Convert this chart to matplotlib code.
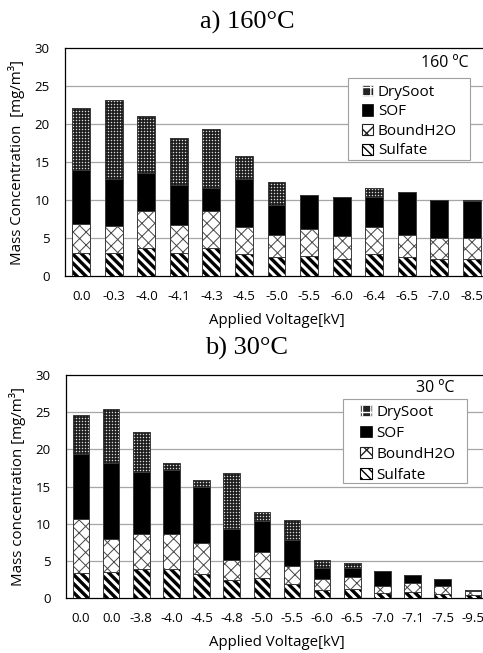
import matplotlib
matplotlib.use("Agg")
import matplotlib.pyplot as plt
import numpy as np
from matplotlib.patches import Patch, Rectangle
from matplotlib.lines import Line2D
from matplotlib.transforms import IdentityTransform

plt.rcParams['font.family'] = ['Open Sans', 'DejaVu Sans']

# ---- data (mg/m3, stacked increments) ----
volt_160 = ["0.0", "-0.3", "-4.0", "-4.1", "-4.3", "-4.5", "-5.0", "-5.5", "-6.0", "-6.4", "-6.5", "-7.0", "-8.5"]
sulfate_160 = [3.0, 3.0, 3.65, 3.0, 3.65, 2.85, 2.45, 2.7, 2.3, 2.85, 2.45, 2.2, 2.2]
boundh2o_160 = [3.85, 3.6, 4.85, 3.7, 4.85, 3.65, 2.9, 3.45, 2.9, 3.55, 2.95, 2.76, 2.76]
sof_160 = [7.05, 6.2, 5.1, 5.3, 3.1, 6.3, 4.0, 4.52, 5.25, 3.96, 5.6, 5.04, 4.94]
drysoot_160 = [8.15, 10.4, 7.5, 6.1, 7.7, 3.0, 3.05, 0.0, 0.0, 1.24, 0.0, 0.0, 0.1]

volt_30 = ["0.0", "0.0", "-3.8", "-4.0", "-4.5", "-4.8", "-5.0", "-5.5", "-6.0", "-6.5", "-7.0", "-7.1", "-7.5", "-9.5"]
sulfate_30 = [3.36, 3.5, 3.85, 3.85, 3.27, 2.37, 2.73, 1.93, 1.12, 1.2, 0.67, 0.85, 0.58, 0.36]
boundh2o_30 = [7.3, 4.43, 4.75, 4.75, 4.07, 2.73, 3.45, 2.41, 1.38, 1.58, 0.9, 1.15, 0.99, 0.64]
sof_30 = [8.74, 10.27, 8.3, 8.6, 7.56, 4.17, 4.12, 3.46, 1.6, 1.22, 2.01, 1.05, 1.03, 0.07]
drysoot_30 = [5.27, 7.2, 5.4, 0.9, 0.95, 7.57, 1.3, 2.72, 1.05, 0.66, 0.0, 0.0, 0.0, 0.0]

components = ["Sulfate", "BoundH2O", "SOF", "DrySoot"]
face = {"Sulfate": "white", "BoundH2O": "white", "SOF": "black", "DrySoot": "#151515"}

DPI = 100
PT = 72.0 / DPI  # px -> points


def pixel_box(ax, p):
    (x0, y0) = ax.transData.transform((p.get_x(), p.get_y()))
    (x1, y1) = ax.transData.transform((p.get_x() + p.get_width(), p.get_y() + p.get_height()))
    return x0, y0, x1, y1


def diag_lines(ax, p, period, dirs, color, width_px, zorder):
    # 45 degree stripes in pixel space, clipped to the bar segment
    x0, y0, x1, y1 = pixel_box(ax, p)
    h = y1 - y0
    xs, ys = [], []
    for k in range(int(np.floor((x0 - h) / period)) - 1, int(np.ceil(x1 / period)) + 2):
        c = k * period
        if '\\' in dirs:
            xs += [c - 2, c + h + 2, np.nan]
            ys += [y1 + 2, y0 - 2, np.nan]
        if '/' in dirs:
            xs += [c - 2, c + h + 2, np.nan]
            ys += [y0 - 2, y1 + 2, np.nan]
    ln = Line2D(xs, ys, color=color, linewidth=width_px * PT, solid_capstyle='butt',
                transform=IdentityTransform(), zorder=zorder)
    ax.add_artist(ln)
    ln.set_clip_path(p)  # after add_artist, which would reset it to the axes box


def dot_grid(ax, p, period, color, size_px, zorder):
    x0, y0, x1, y1 = pixel_box(ax, p)
    xs = np.arange(np.floor(x0), np.ceil(x1) + 1, period) + 0.5
    ys = np.arange(np.floor(y0), np.ceil(y1) + 1, period) + 0.5
    gx, gy = np.meshgrid(xs, ys)
    ln = Line2D(gx.ravel(), gy.ravel(), linestyle='none', marker='s',
                markersize=size_px * PT, markerfacecolor=color, markeredgewidth=0,
                transform=IdentityTransform(), zorder=zorder)
    ax.add_artist(ln)
    ln.set_clip_path(p)


def stacked(ax, labels, comps, frame_box, legend_pos, lab_space, temp_text, temp_pos, ylabel):
    x = np.arange(len(labels))
    ax.set_xlim(-0.5, len(labels) - 0.5)
    ax.set_ylim(0, 30)
    bottom = np.zeros(len(labels))
    for name, vals in zip(components, comps):
        vals = np.array(vals)
        bars = ax.bar(x, vals, 0.55, bottom=bottom, color=face[name], linewidth=0, zorder=3)
        for b, v in zip(bars, vals):
            if v <= 0:
                continue
            if name == "Sulfate":
                diag_lines(ax, b, 9.0, '\\', 'black', 3.4, 3.5)
            elif name == "BoundH2O":
                diag_lines(ax, b, 13.0, '\\/', '#4a4a4a', 1.0, 3.5)
            elif name == "DrySoot":
                dot_grid(ax, b, 3.0, '#dcdcdc', 1.4, 3.5)
        ax.bar(x[vals > 0], vals[vals > 0], 0.55, bottom=bottom[vals > 0], fill=False,
               edgecolor="#3a3a3a", linewidth=0.7, zorder=4)
        bottom = bottom + vals

    ax.set_yticks([0, 5, 10, 15, 20, 25, 30])
    ax.set_xticks(x)
    ax.set_xticklabels(labels)
    ax.tick_params(axis='both', length=0, labelsize=9.5)
    ax.tick_params(axis='x', pad=10)
    ax.tick_params(axis='y', pad=11)
    for y in [5, 10, 15, 20, 25]:
        ax.axhline(y, color="#a6a6a6", linewidth=0.9, zorder=1)
    for s in ['left', 'top', 'bottom']:
        ax.spines[s].set_color('black')
        ax.spines[s].set_linewidth(0.9)
    ax.spines['right'].set_visible(False)
    ax.set_xlabel("Applied Voltage[kV]", fontsize=10.8, labelpad=7)
    ax.set_ylabel(ylabel, fontsize=10.8, labelpad=7)

    # legend frame drawn separately so its size matches the reference box
    ax.add_patch(Rectangle(frame_box[:2], frame_box[2], frame_box[3], transform=ax.transAxes,
                           facecolor='white', edgecolor='#a0a0a0', linewidth=0.8, zorder=5))
    handles = [
        Patch(facecolor='#222222', edgecolor='white', hatch='++', linewidth=0.5, label="DrySoot"),
        Patch(facecolor='black', edgecolor='black', linewidth=0.5, label="SOF"),
        Patch(facecolor='white', edgecolor='#222222', hatch='xx', linewidth=0.8, label="BoundH2O"),
        Patch(facecolor='white', edgecolor='black', hatch='\\\\\\\\', linewidth=0.8, label="Sulfate"),
    ]
    leg = ax.legend(handles=handles, loc='upper left', bbox_to_anchor=legend_pos,
                    borderaxespad=0, frameon=False, fontsize=11,
                    handlelength=0.75, handleheight=0.75, handletextpad=0.3,
                    labelspacing=lab_space, borderpad=0.3)
    leg.set_zorder(6)
    ax.text(temp_pos[0], temp_pos[1], temp_text, transform=ax.transAxes,
            ha='right', va='center', fontsize=11.5, zorder=6)


fig = plt.figure(figsize=(483 / DPI, 653 / DPI), dpi=DPI)
ax1 = fig.add_axes([0.1346, 0.5773, 0.8758, 0.3492])
ax2 = fig.add_axes([0.1366, 0.0842, 0.8737, 0.3415])

stacked(ax1, volt_160, [sulfate_160, boundh2o_160, sof_160, drysoot_160],
        (0.669, 0.509, 0.288, 0.359), (0.691, 0.859), 0.3,
        "160 ºC", (0.953, 0.934), "Mass Concentration  [mg/m³]")
stacked(ax2, volt_30, [sulfate_30, boundh2o_30, sof_30, drysoot_30],
        (0.656, 0.516, 0.294, 0.376), (0.686, 0.888), 0.4,
        "30 ºC", (0.92, 0.942), "Mass concentration [mg/m³]")

fig.text(0.511, 0.966, "a) 160°C", ha='center', va='center', fontsize=19, family='Liberation Serif')
fig.text(0.511, 0.467, "b) 30°C", ha='center', va='center', fontsize=19, family='Liberation Serif')

fig.savefig("out.png", dpi=DPI)
